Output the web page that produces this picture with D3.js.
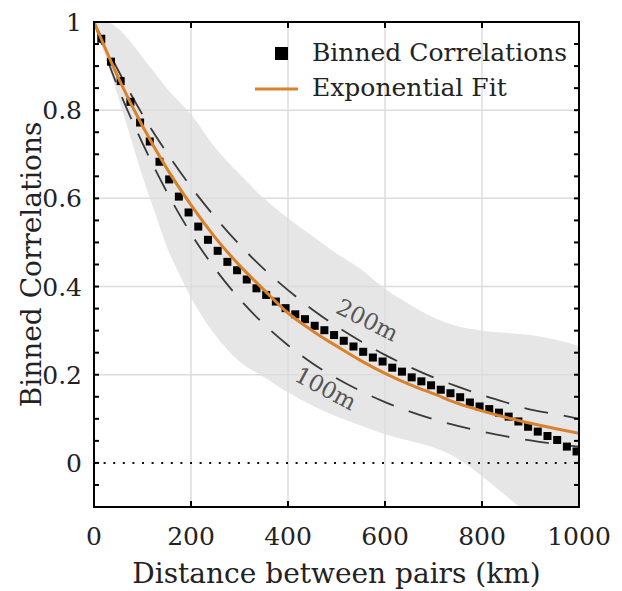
<!DOCTYPE html>
<html>
<head>
<meta charset="utf-8">
<script src="https://cdn.jsdelivr.net/npm/d3@7"></script>
<style>
body { margin: 0; background: #fff; }
svg text { font-family: "DejaVu Serif", "Liberation Serif", "Times New Roman", serif; }
</style>
</head>
<body>
<div id="chart"></div>
<script>
// binned correlations (km, corr)
var binDist = [15,35,55,75,95,115,135,155,175,195,215,235,255,275,295,315,335,355,375,395,
               415,435,455,475,495,515,535,555,575,595,615,635,655,675,695,715,735,755,775,795,
               815,835,855,875,895,915,935,955,975,995];
var binCorr = [0.962,0.910,0.866,0.819,0.772,0.729,0.683,0.643,0.604,0.568,
               0.536,0.506,0.481,0.456,0.437,0.416,0.396,0.381,0.366,0.351,
               0.337,0.326,0.311,0.301,0.290,0.277,0.264,0.252,0.239,0.230,
               0.216,0.207,0.194,0.185,0.176,0.166,0.158,0.149,0.137,0.128,
               0.122,0.114,0.105,0.094,0.082,0.071,0.061,0.052,0.037,0.026];

// curves read every 50 km
var lineDist = [0,50,100,150,200,250,300,350,400,450,500,550,600,650,700,750,800,850,900,950,1000];
var fitCorr  = [1.0,0.874,0.764,0.668,0.585,0.511,0.448,0.393,0.340,0.300,0.265,0.232,0.203,0.178,0.157,0.135,0.118,0.103,0.090,0.078,0.067];
var corr200m = [1.0,0.89,0.79,0.704,0.626,0.557,0.495,0.44,0.392,0.348,0.31,0.276,0.245,0.218,0.194,0.173,0.154,0.137,0.121,0.111,0.100];
var corr100m = [1.0,0.85,0.725,0.615,0.52,0.44,0.372,0.315,0.267,0.226,0.192,0.163,0.138,0.117,0.099,0.084,0.071,0.060,0.051,0.043,0.037];

// grey spread band
var bandDist  = [0,25,50,75,100,125,150,175,200,250,300,350,400,450,500,550,600,650,700,750,800,850,900,950,1000];
var bandUpper = [1.0,1.0,0.985,0.955,0.92,0.885,0.85,0.82,0.79,0.715,0.655,0.60,0.555,0.515,0.475,0.44,0.395,0.36,0.33,0.31,0.30,0.295,0.29,0.28,0.265];
var bandLower = [1.0,0.915,0.83,0.74,0.65,0.57,0.49,0.43,0.375,0.29,0.23,0.195,0.16,0.13,0.105,0.085,0.065,0.05,0.035,0.01,-0.03,-0.075,-0.12,-0.16,-0.2];

var xTicks = [0,200,400,600,800,1000];
var yTicks = [0,0.2,0.4,0.6,0.8,1];
var yMinor = d3.range(-0.1, 1.0001, 0.05);

var serif = "DejaVu Serif";

var svg = d3.select("#chart").append("svg").attr("width", 622).attr("height", 591),
    margin = {top: 22, left: 94},
    width = 485,
    height = 485,
    g = svg.append("g").attr("transform", "translate(" + margin.left + "," + margin.top + ")");

var x = d3.scaleLinear().domain([0, 1000]).range([0, width]);
var y = d3.scaleLinear().domain([-0.1, 1]).range([height, 0]);

svg.append("defs").append("clipPath").attr("id", "clip")
  .append("rect").attr("width", width).attr("height", height);

var plot = g.append("g").attr("clip-path", "url(#clip)");

// band
var band = bandDist.map(function(d, i) { return {d: d, lo: bandLower[i], hi: bandUpper[i]}; });
plot.append("path")
  .datum(band)
  .attr("fill", "#e6e6e6")
  .attr("d", d3.area().curve(d3.curveMonotoneX)
      .x(function(d) { return x(d.d); })
      .y0(function(d) { return y(d.lo); })
      .y1(function(d) { return y(d.hi); }));

// grid
plot.selectAll(".gx").data([200,400,600,800]).enter().append("line")
  .attr("x1", x).attr("x2", x).attr("y1", 0).attr("y2", height)
  .attr("stroke", "#dcdcdc").attr("stroke-width", 1.5);
plot.selectAll(".gy").data([0.2,0.4,0.6,0.8]).enter().append("line")
  .attr("x1", 0).attr("x2", width).attr("y1", y).attr("y2", y)
  .attr("stroke", "#dcdcdc").attr("stroke-width", 1.5);

// zero line
plot.append("line")
  .attr("x1", 0).attr("x2", width).attr("y1", y(0)).attr("y2", y(0))
  .attr("stroke", "#111").attr("stroke-width", 2)
  .attr("stroke-dasharray", "2,7.6");

var line = d3.line().curve(d3.curveMonotoneX)
  .x(function(d) { return x(d[0]); })
  .y(function(d) { return y(d[1]); });

// dashed model curves
[corr200m, corr100m].forEach(function(arr) {
  plot.append("path")
    .datum(lineDist.map(function(d, i) { return [d, arr[i]]; }))
    .attr("fill", "none").attr("stroke", "#3a3a3a").attr("stroke-width", 1.8)
    .attr("stroke-dasharray", "24,16")
    .attr("d", line);
});

// squares
var sq = 8;
plot.selectAll(".bin").data(binDist).enter().append("rect")
  .attr("x", function(d) { return x(d) - sq / 2; })
  .attr("y", function(d, i) { return y(binCorr[i]) - sq / 2; })
  .attr("width", sq).attr("height", sq)
  .attr("fill", "#000");

// exponential fit
plot.append("path")
  .datum(lineDist.map(function(d, i) { return [d, fitCorr[i]]; }))
  .attr("fill", "none").attr("stroke", "#d9822b").attr("stroke-width", 3)
  .attr("d", line);

function label(sel, size) {
  return sel.attr("font-family", serif).attr("font-size", size).attr("fill", "#222");
}

// curve labels
label(g.append("text"), 23).attr("fill", "#555")
  .attr("transform", "translate(" + x(562) + "," + y(0.32) + ") rotate(27)")
  .attr("text-anchor", "middle").attr("dominant-baseline", "middle")
  .text("200m");
label(g.append("text"), 23).attr("fill", "#555")
  .attr("transform", "translate(" + x(476) + "," + y(0.165) + ") rotate(28)")
  .attr("text-anchor", "middle").attr("dominant-baseline", "middle")
  .text("100m");

// axes box and ticks
g.append("rect").attr("width", width).attr("height", height)
  .attr("fill", "none").attr("stroke", "#000").attr("stroke-width", 2);

g.selectAll(".tb").data(xTicks).enter().append("line")
  .attr("x1", x).attr("x2", x).attr("y1", height).attr("y2", height - 6)
  .attr("stroke", "#000").attr("stroke-width", 2);
g.selectAll(".tt").data(xTicks).enter().append("line")
  .attr("x1", x).attr("x2", x).attr("y1", 0).attr("y2", 6)
  .attr("stroke", "#000").attr("stroke-width", 2);
g.selectAll(".tl").data(yMinor).enter().append("line")
  .attr("x1", 0).attr("x2", 5).attr("y1", y).attr("y2", y)
  .attr("stroke", "#000").attr("stroke-width", 2);
g.selectAll(".tr").data(yMinor).enter().append("line")
  .attr("x1", width).attr("x2", width - 5).attr("y1", y).attr("y2", y)
  .attr("stroke", "#000").attr("stroke-width", 2);

label(g.selectAll(".xl").data(xTicks).enter().append("text"), 25)
  .attr("x", x).attr("y", height + 38)
  .attr("text-anchor", "middle")
  .text(function(d) { return d; });
label(g.selectAll(".yl").data(yTicks).enter().append("text"), 25)
  .attr("x", -12).attr("y", function(d) { return y(d) + 9; })
  .attr("text-anchor", "end")
  .text(function(d) { return d; });

label(g.append("text"), 28).attr("x", width / 2).attr("y", height + 76)
  .attr("text-anchor", "middle")
  .text("Distance between pairs (km)");
label(g.append("text"), 28).attr("transform", "translate(-53," + height / 2 + ") rotate(-90)")
  .attr("text-anchor", "middle")
  .text("Binned Correlations");

// legend
var lg = g.append("g");
lg.append("rect").attr("x", 181).attr("y", 25).attr("width", 13).attr("height", 13).attr("fill", "#000");
label(lg.append("text"), 25).attr("x", 218).attr("y", 39).text("Binned Correlations");
lg.append("line").attr("x1", 161).attr("x2", 204).attr("y1", 67).attr("y2", 67)
  .attr("stroke", "#d9822b").attr("stroke-width", 3);
label(lg.append("text"), 25).attr("x", 218).attr("y", 74).text("Exponential Fit");
</script>
</body>
</html>
